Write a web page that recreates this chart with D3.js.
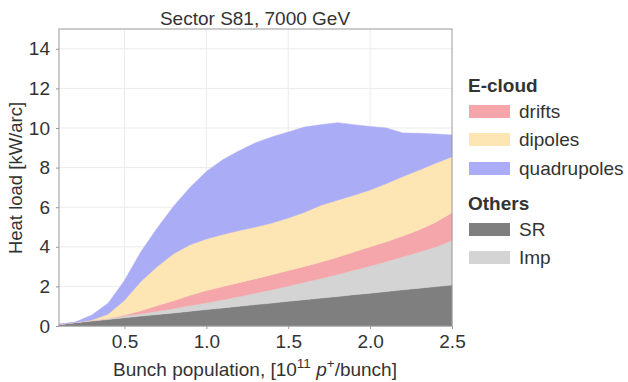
<!DOCTYPE html>
<html><head><meta charset="utf-8">
<script src="https://cdn.jsdelivr.net/npm/d3@7"></script>
<style>body{margin:0;background:#fff}svg{font-family:"Liberation Sans",Arial,sans-serif}</style>
</head><body><svg id="c" width="628" height="382"></svg>
<script>
const xVals = [0.1,0.2,0.3,0.4,0.5,0.6,0.7,0.8,0.9,1.0,1.1,1.2,1.3,1.4,1.5,1.6,1.7,1.8,1.9,2.0,2.1,2.2,2.3,2.4,2.5];
const sr    = [0.08,0.17,0.25,0.33,0.42,0.5,0.58,0.66,0.75,0.83,0.91,1.0,1.08,1.16,1.25,1.33,1.41,1.49,1.58,1.66,1.74,1.83,1.91,1.99,2.07];
const imp   = [0,0.01,0.03,0.05,0.08,0.12,0.17,0.22,0.28,0.34,0.41,0.49,0.58,0.67,0.77,0.88,0.99,1.11,1.24,1.37,1.52,1.67,1.83,2.0,2.25];
const drifts= [0,0,0,0,0.05,0.15,0.28,0.4,0.52,0.62,0.67,0.7,0.73,0.76,0.78,0.8,0.83,0.87,0.92,0.97,1.0,1.05,1.12,1.25,1.4];
const dipoles=[0,0,0.02,0.22,0.75,1.48,1.97,2.37,2.55,2.61,2.63,2.63,2.61,2.61,2.65,2.74,2.87,2.88,2.86,2.87,2.94,3.0,3.02,2.98,2.83];
const quads = [0,0.02,0.25,0.55,1.0,1.5,1.95,2.4,2.9,3.4,3.78,4.03,4.25,4.35,4.35,4.3,4.07,3.92,3.57,3.21,2.8,2.2,1.85,1.48,1.1];
const seriesKeys = ["SR","Imp","drifts","dipoles","quadrupoles"];
const colors = {SR:"#7f7f7f",Imp:"#d4d4d4",drifts:"#f4a6aa",dipoles:"#fde5b4",quadrupoles:"#aaacf6"};
const xTicks = [0.5,1.0,1.5,2.0,2.5];
const yTicks = [0,2,4,6,8,10,12,14];

const FS = 19;
const rows = xVals.map((x,i)=>({x,SR:sr[i],Imp:imp[i],drifts:drifts[i],dipoles:dipoles[i],quadrupoles:quads[i]}));
const svg = d3.select("#c");
const L=59,R=452,T=29,B=326;
const x = d3.scaleLinear().domain([0.1,2.5]).range([L,R]);
const y = d3.scaleLinear().domain([0,15]).range([B,T]);

// grid
svg.append("g").selectAll("line").data(yTicks).join("line")
  .attr("x1",L).attr("x2",R).attr("y1",d=>y(d)).attr("y2",d=>y(d))
  .attr("stroke","#ebebeb").attr("stroke-width",1);
svg.append("g").selectAll("line").data(xTicks.slice(0,-1)).join("line")
  .attr("y1",T).attr("y2",B).attr("x1",d=>x(d)).attr("x2",d=>x(d))
  .attr("stroke","#ebebeb").attr("stroke-width",1);

const stack = d3.stack().keys(seriesKeys)(rows);
const area = d3.area().x(d=>x(d.data.x)).y0(d=>y(d[0])).y1(d=>y(d[1]));
svg.append("g").selectAll("path").data(stack).join("path")
  .attr("d",area).attr("fill",d=>colors[d.key]).attr("stroke",d=>colors[d.key]).attr("stroke-width",0.5);

// frame
svg.append("rect").attr("x",L).attr("y",T).attr("width",R-L).attr("height",B-T)
  .attr("fill","none").attr("stroke","#9a9a9a").attr("stroke-width",1);

// axes
const xa = svg.append("g").attr("transform",`translate(0,${B})`)
  .call(d3.axisBottom(x).tickValues(xTicks).tickFormat(d3.format(".1f")).tickSize(3).tickPadding(6));
const ya = svg.append("g").attr("transform",`translate(${L},0)`)
  .call(d3.axisLeft(y).tickValues(yTicks).tickFormat(d3.format("d")).tickSize(3).tickPadding(6));
[xa,ya].forEach(g=>{
  g.select(".domain").remove();
  g.selectAll(".tick line").attr("stroke","#9a9a9a");
  g.selectAll("text").attr("font-size",FS).attr("fill","#333").attr("font-family","'Liberation Sans',Arial,sans-serif");
});

// title
svg.append("text").attr("x",255).attr("y",25).attr("text-anchor","middle")
  .attr("font-size",FS).attr("fill","#333").text("Sector S81, 7000 GeV");
// y label
svg.append("text").attr("transform","translate(22,178) rotate(-90)").attr("text-anchor","middle")
  .attr("font-size",18.5).attr("fill","#333").text("Heat load [kW/arc]");
// x label
const xl = svg.append("text").attr("x",255).attr("y",376).attr("text-anchor","middle")
  .attr("font-size",FS).attr("fill","#333");
xl.append("tspan").text("Bunch population, [10");
xl.append("tspan").attr("dy",-8).attr("font-size",13.5).text("11");
xl.append("tspan").attr("dy",8).text(" ");
xl.append("tspan").attr("font-style","italic").text("p");
xl.append("tspan").attr("dy",-8).attr("font-size",13.5).text("+");
xl.append("tspan").attr("dy",8).text("/bunch]");

// legend
const leg = svg.append("g");
const groups = [
  {title:"E-cloud", ty:92, items:[["drifts",105],["dipoles",133],["quadrupoles",162]]},
  {title:"Others", ty:210, items:[["SR",223],["Imp",251]]}
];
groups.forEach(g=>{
  leg.append("text").attr("x",468).attr("y",g.ty).attr("font-size",FS).attr("font-weight","bold").attr("fill","#333").text(g.title);
  g.items.forEach(([k,yy])=>{
    leg.append("rect").attr("x",469).attr("y",yy).attr("width",41).attr("height",13).attr("fill",colors[k]);
    leg.append("text").attr("x",519).attr("y",yy+13).attr("font-size",FS).attr("fill","#333").text(k);
  });
});
</script></body></html>
